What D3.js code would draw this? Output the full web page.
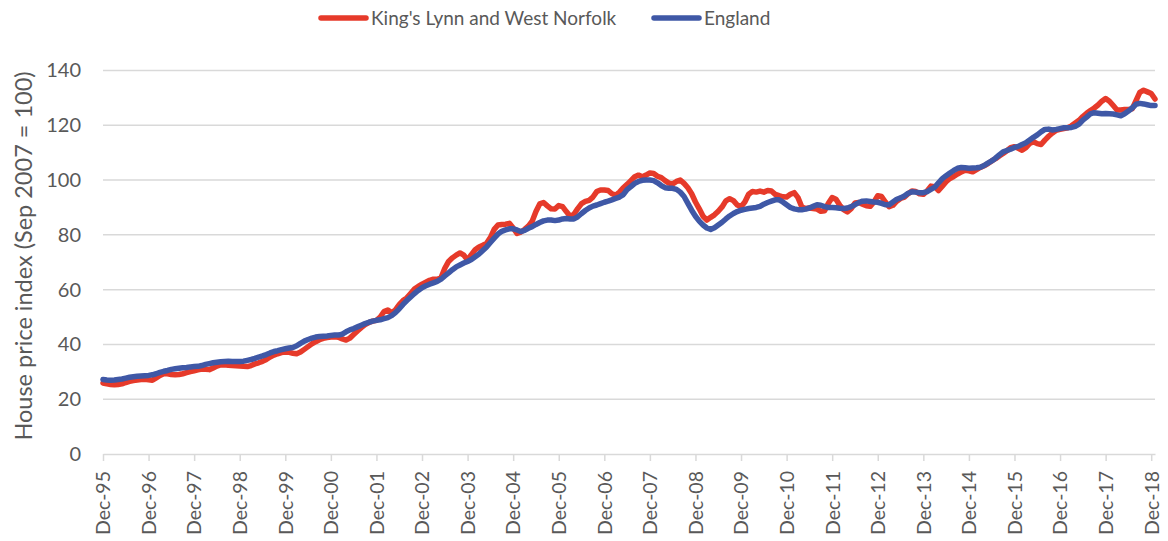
<!DOCTYPE html>
<html>
<head>
<meta charset="utf-8">
<script src="https://cdn.jsdelivr.net/npm/d3@7"></script>
<style>
  body { margin: 0; background: #fff; }
  text { font-family: Lato, "Open Sans", sans-serif; fill: #595959; }
</style>
</head>
<body>
<div class="chart"></div>
<script>
// Monthly index, Dec-95 .. Jan-19
var kingsLynn = [
  25.9, 25.6, 25.4, 25.3, 25.4, 25.6, 26.1, 26.5, 26.8, 27.0, 27.2, 27.3,
  27.1, 26.9, 27.8, 28.7, 29.3, 29.3, 29.0, 28.9, 29.0, 29.3, 29.7, 30.1,
  30.4, 30.7, 31.0, 30.9, 30.8, 31.4, 32.1, 32.5, 32.6, 32.4, 32.3, 32.2,
  32.1, 32.0, 31.9, 32.3, 32.9, 33.3, 33.8, 34.5, 35.4, 36.1, 36.6, 37.0,
  37.2, 37.1, 36.8, 36.6, 37.2, 38.2, 39.2, 40.2, 41.0, 41.7, 42.2, 42.5,
  42.7, 42.8, 42.6, 42.0, 41.6, 42.3, 43.6, 44.9, 46.1, 47.2, 48.0, 48.5,
  48.8, 50.0, 52.0, 52.6, 51.6, 52.6, 54.5, 56.0, 57.0, 58.6, 60.2, 61.2,
  62.0, 62.7, 63.4, 63.8, 63.8, 64.3, 67.8, 70.3, 71.6, 72.6, 73.4, 72.6,
  70.8, 72.8, 74.6, 75.6, 76.2, 76.9, 79.0, 82.0, 83.6, 83.8, 83.9, 84.2,
  82.5, 80.5, 81.0, 82.0, 83.2, 85.0, 88.5, 91.3, 91.8, 90.6, 89.5, 89.4,
  90.7, 90.3, 88.5, 86.8, 87.5, 89.6, 91.4, 92.2, 92.6, 93.8, 95.8, 96.4,
  96.4, 96.2, 95.0, 94.5, 95.6, 97.2, 98.4, 99.8, 101.2, 101.8, 101.2, 101.8,
  102.6, 102.4, 101.4, 100.9, 99.8, 98.9, 98.6, 99.5, 100.0, 98.8, 97.2, 95.0,
  92.0, 89.5, 86.8, 85.4, 86.4, 87.3, 88.6, 90.2, 92.4, 93.2, 92.5, 90.9,
  90.3, 92.0, 94.8, 95.8, 95.6, 96.0, 95.6, 96.2, 96.0, 94.8, 94.3, 93.9,
  93.8, 94.8, 95.4, 93.6, 90.2, 89.6, 89.8, 89.6, 89.4, 88.6, 88.8, 91.5,
  93.6, 93.0, 90.8, 89.2, 88.4, 89.6, 91.6, 91.8, 91.2, 90.6, 90.4, 92.0,
  94.3, 94.0, 92.0, 90.3, 90.8, 92.3, 93.3, 93.8, 95.0, 96.0, 95.8, 95.0,
  94.8, 96.0, 97.8, 97.6, 96.2, 97.8, 99.4, 100.6, 101.3, 102.2, 103.0, 103.6,
  103.4, 103.0, 103.8, 104.6, 105.2, 106.0, 107.0, 107.8, 108.8, 109.7, 110.7, 111.8,
  112.2, 111.6, 110.9, 111.8, 113.4, 114.0, 113.3, 113.0, 114.6, 116.0, 117.2, 118.2,
  118.5, 118.8, 119.1, 119.8, 120.8, 121.8, 123.2, 124.4, 125.4, 126.3, 127.4, 128.8,
  129.8, 128.8, 127.2, 125.6, 125.6, 125.8, 125.8, 126.0, 129.0, 132.0, 132.8, 132.2,
  131.6, 129.6
];

var england = [
  27.2, 27.0, 26.9, 27.0, 27.2, 27.4, 27.7, 28.0, 28.2, 28.4, 28.5, 28.6,
  28.7, 28.9, 29.3, 29.8, 30.2, 30.5, 30.9, 31.1, 31.3, 31.5, 31.6, 31.8,
  31.9, 32.0, 32.3, 32.7, 33.0, 33.3, 33.5, 33.7, 33.8, 33.9, 33.8, 33.8,
  33.8, 33.9, 34.2, 34.5, 34.9, 35.4, 35.8, 36.3, 36.9, 37.4, 37.7, 38.1,
  38.4, 38.7, 38.9, 39.5, 40.4, 41.2, 41.8, 42.3, 42.7, 42.9, 43.0, 43.1,
  43.3, 43.4, 43.4, 43.8, 44.6, 45.3, 45.8, 46.4, 47.0, 47.6, 48.1, 48.5,
  48.8, 49.0, 49.4, 49.8, 50.5, 51.6, 53.0, 54.6, 56.0, 57.3, 58.6, 59.7,
  60.7, 61.4, 62.0, 62.5, 63.0, 63.8, 65.0, 66.1, 67.3, 68.3, 69.0, 69.7,
  70.3, 71.0, 72.0, 73.0, 74.3, 75.6, 77.2, 78.8, 80.3, 81.3, 81.8, 82.2,
  82.2, 81.8, 81.2, 81.6, 82.4, 83.0, 83.8, 84.5, 85.1, 85.4, 85.4, 85.2,
  85.4, 85.8, 86.0, 85.8, 85.8, 86.6, 87.8, 88.9, 89.8, 90.5, 90.9, 91.4,
  91.9, 92.3, 92.8, 93.3, 93.8, 94.7, 96.5, 97.6, 98.8, 99.5, 99.9, 100.0,
  100.0, 99.8, 99.0, 98.0, 97.2, 97.0, 97.0, 96.6, 95.6, 94.0, 91.5, 89.0,
  86.8, 85.0, 83.6, 82.5, 82.0, 82.6, 83.6, 84.6, 85.8, 86.9, 87.8, 88.5,
  89.0, 89.3, 89.6, 89.8, 90.0, 90.4, 91.2, 91.8, 92.3, 92.8, 92.8, 92.0,
  91.0, 90.0, 89.5, 89.2, 89.2, 89.4, 89.8, 90.4, 91.0, 90.8, 90.3, 90.0,
  90.0, 89.9, 89.7, 89.6, 89.8, 90.3, 91.0, 91.8, 92.3, 92.4, 92.2, 92.0,
  91.9, 91.5, 91.0, 91.0, 92.0, 93.0, 93.5, 94.2, 95.2, 95.7, 95.6, 95.4,
  95.4, 95.8, 96.6, 97.4, 99.0, 100.5, 101.6, 102.6, 103.5, 104.3, 104.6, 104.5,
  104.3, 104.4, 104.5, 104.7, 105.3, 106.2, 107.0, 108.0, 109.2, 110.3, 110.8, 111.3,
  111.9, 112.3, 113.0, 113.6, 114.6, 115.6, 116.5, 117.6, 118.5, 118.6, 118.3, 118.5,
  118.8, 119.1, 119.1, 119.2, 119.6, 120.4, 121.9, 123.0, 124.2, 124.6, 124.4, 124.2,
  124.3, 124.2, 124.1, 123.8, 123.5, 124.2, 125.2, 126.3, 127.7, 128.0, 127.8, 127.5,
  127.2, 127.2
];

var tickLabels = ["Dec-95", "Dec-96", "Dec-97", "Dec-98", "Dec-99", "Dec-00", "Dec-01", "Dec-02",
  "Dec-03", "Dec-04", "Dec-05", "Dec-06", "Dec-07", "Dec-08", "Dec-09", "Dec-10", "Dec-11",
  "Dec-12", "Dec-13", "Dec-14", "Dec-15", "Dec-16", "Dec-17", "Dec-18"];

var yTicks = [0, 20, 40, 60, 80, 100, 120, 140];

var seriesNames = ["King's Lynn and West Norfolk", "England"];
var seriesColors = ["#e63a2a", "#3f58a6"];

var svgWidth = 1168;
var svgHeight = 541;

var margin = { top: 70.5, right: 13, bottom: 87, left: 103 };
var width = svgWidth - margin.left - margin.right;
var height = svgHeight - margin.top - margin.bottom;

var svg = d3.select(".chart")
  .append("svg")
  .attr("width", svgWidth)
  .attr("height", svgHeight);

var chartGroup = svg.append("g")
  .attr("transform", `translate(${margin.left}, ${margin.top})`);

var xScale = d3.scaleLinear()
  .domain([0, england.length - 1])
  .range([0, width]);

var yScale = d3.scaleLinear()
  .domain([0, 140])
  .range([height, 0]);

// gridlines
chartGroup.append("g")
  .selectAll("line")
  .data(yTicks.slice(1))
  .enter()
  .append("line")
  .attr("x1", 0)
  .attr("x2", width)
  .attr("y1", d => yScale(d))
  .attr("y2", d => yScale(d))
  .attr("stroke", "#d9d9d9")
  .attr("stroke-width", 1.5);

// y axis labels
var leftAxis = d3.axisLeft(yScale).tickValues(yTicks).tickSize(0).tickPadding(22);
var yAxisG = chartGroup.append("g").call(leftAxis);
yAxisG.select(".domain").remove();
yAxisG.selectAll("text")
  .style("font-size", "20px")
  .style("font-family", "Lato, sans-serif")
  .attr("fill", "#595959");

// x axis
var bottomAxis = d3.axisBottom(xScale)
  .tickValues(tickLabels.map((d, i) => i * 12))
  .tickFormat((d, i) => tickLabels[i])
  .tickSizeInner(7)
  .tickSizeOuter(0);

var xAxisG = chartGroup.append("g")
  .attr("transform", `translate(0, ${height})`)
  .call(bottomAxis);
xAxisG.select(".domain").attr("stroke", "#d9d9d9").attr("stroke-width", 1.5);
xAxisG.selectAll(".tick line").attr("stroke", "#d9d9d9").attr("stroke-width", 1.5);
xAxisG.selectAll("text")
  .style("font-size", "19.5px")
  .style("font-family", "Lato, sans-serif")
  .attr("fill", "#595959")
  .attr("transform", "rotate(-90)")
  .attr("text-anchor", "end")
  .attr("x", -17)
  .attr("y", 0)
  .attr("dy", "0.35em");

// lines
var line = d3.line()
  .x((d, i) => xScale(i))
  .y(d => yScale(d))
  .curve(d3.curveLinear);

[kingsLynn, england].forEach(function(series, k) {
  chartGroup.append("path")
    .datum(series)
    .attr("fill", "none")
    .attr("stroke", seriesColors[k])
    .attr("stroke-width", 5.5)
    .attr("stroke-linejoin", "round")
    .attr("stroke-linecap", "round")
    .attr("d", line);
});

// y axis title
svg.append("text")
  .attr("transform", "translate(32, 256) rotate(-90)")
  .attr("text-anchor", "middle")
  .style("font-size", "23.5px")
  .text("House price index (Sep 2007 = 100)");

// legend
var legendX = [319, 652];
var legend = svg.append("g").selectAll("g")
  .data(seriesNames)
  .enter()
  .append("g")
  .attr("transform", (d, i) => `translate(${legendX[i]}, 18)`);

legend.append("line")
  .attr("x1", 2)
  .attr("x2", 47)
  .attr("stroke", (d, i) => seriesColors[i])
  .attr("stroke-width", 5.5)
  .attr("stroke-linecap", "round");

legend.append("text")
  .attr("x", 52)
  .attr("dy", "0.35em")
  .style("font-size", "19px")
  .text(d => d);
</script>
</body>
</html>
